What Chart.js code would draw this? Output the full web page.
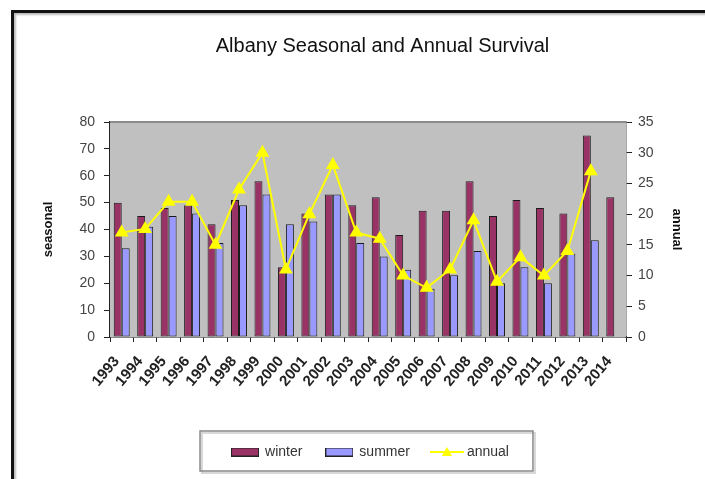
<!DOCTYPE html>
<html lang="en">
<head>
<meta charset="UTF-8">
<title>Albany Seasonal and Annual Survival</title>
<script src="https://cdn.jsdelivr.net/npm/chart.js"></script>
<style>
    body {
        margin: 0;
        background: #ffffff;
        font-family: 'Liberation Sans', Arial, sans-serif;
    }
    /* black frame, only left and top edges show in the picture */
    .frame {
        position: absolute;
        left: 11px;
        top: 10px;
        width: 700px;
        height: 480px;
        border-left: 3px solid #111;
        border-top: 3px solid #111;
        box-shadow: inset 2px 2px 2px #bbb;
    }
    .wrap {
        position: absolute;
        left: 0;
        top: 0;
        width: 705px;
        height: 479px;
    }
</style>
</head>
<body>
<div class="frame"></div>
<div class="wrap">
    <canvas id="chart" width="705" height="479"></canvas>
</div>

<script>
    // data
    const years = ["1993", "1994", "1995", "1996", "1997", "1998", "1999", "2000", "2001", "2002", "2003",
                   "2004", "2005", "2006", "2007", "2008", "2009", "2010", "2011", "2012", "2013", "2014"];
    const winter = [50, 45, 48, 49, 42, 51, 58, 26, 46, 53, 49, 52, 38, 47, 47, 58, 45, 51, 48, 46, 75, 52];
    const summer = [33, 41, 45, 46, 35, 49, 53, 42, 43, 53, 35, 30, 25, 18, 23, 32, 20, 26, 20, 31, 36, null];
    const annual = [17, 17.6, 22, 22, 15, 24, 30, 11, 20, 28, 17, 16, 10, 8, 11, 19, 9, 13, 10, 14, 27, null];
    const seasonalTicks = [0, 80, 10];
    const annualTicks = [0, 35, 5];

    const winterColor = "#993366";
    const summerColor = "#9999FF";
    const annualColor = "#FFFF00";

    // legend swatches
    function boxSwatch(color) {
        const c = document.createElement("canvas");
        c.width = 28; c.height = 9;
        const g = c.getContext("2d");
        g.fillStyle = color;
        g.fillRect(0, 0, 28, 9);
        g.strokeStyle = "#222";
        g.lineWidth = 1;
        g.strokeRect(0.5, 0.5, 27, 8);
        return c;
    }
    function lineSwatch() {
        const c = document.createElement("canvas");
        c.width = 34; c.height = 12;
        const g = c.getContext("2d");
        g.strokeStyle = annualColor;
        g.lineWidth = 2;
        g.beginPath(); g.moveTo(0, 6); g.lineTo(34, 6); g.stroke();
        g.fillStyle = annualColor;
        g.beginPath(); g.moveTo(17, 1); g.lineTo(22, 10); g.lineTo(12, 10); g.closePath(); g.fill();
        return c;
    }
    const swatches = [boxSwatch(winterColor), boxSwatch(summerColor), lineSwatch()];

    // grey plot area, title/legend nudge, border round the legend
    const decor = {
        id: "decor",
        afterLayout(chart) {
            // title and legend sit right of the canvas centre in the original
            chart.titleBlock.left += 60;
            chart.legend.left += 18;
            chart.legend.right += 18;
        },
        beforeDatasetsDraw(chart) {
            const { ctx, chartArea: a } = chart;
            ctx.save();
            ctx.fillStyle = "#C0C0C0";
            ctx.fillRect(a.left, a.top, a.right - a.left, a.bottom - a.top);
            ctx.strokeStyle = "#8a8a8a";
            ctx.lineWidth = 2;
            ctx.beginPath();
            ctx.moveTo(a.left, a.top);
            ctx.lineTo(a.right, a.top);
            ctx.stroke();
            ctx.restore();
        },
        afterDraw(chart) {
            const hb = chart.legend.legendHitBoxes;
            if (!hb || !hb.length) return;
            const first = hb[0], last = hb[hb.length - 1];
            const x0 = first.left - 32, x1 = last.left + last.width + 24;
            const y0 = first.top - 14, y1 = first.top + first.height + 12;
            const ctx = chart.ctx;
            ctx.save();
            ctx.strokeStyle = "#d8d8d8";
            ctx.lineWidth = 2;
            ctx.strokeRect(x0 + 2, y0 + 2, x1 - x0, y1 - y0);
            ctx.strokeStyle = "#888";
            ctx.lineWidth = 1.5;
            ctx.strokeRect(x0, y0, x1 - x0, y1 - y0);
            ctx.restore();
        }
    };

    new Chart(document.getElementById("chart"), {
        type: "bar",
        data: {
            labels: years,
            datasets: [
                {
                    label: "winter",
                    data: winter,
                    backgroundColor: winterColor,
                    borderColor: "#1a1a1a",
                    borderWidth: 1,
                    borderSkipped: false,
                    yAxisID: "y",
                    order: 1
                },
                {
                    label: "summer",
                    data: summer,
                    backgroundColor: summerColor,
                    borderColor: "#1a1a1a",
                    borderWidth: 1,
                    borderSkipped: false,
                    yAxisID: "y",
                    order: 1
                },
                {
                    type: "line",
                    label: "annual",
                    data: annual,
                    borderColor: annualColor,
                    backgroundColor: annualColor,
                    borderWidth: 2,
                    pointStyle: "triangle",
                    pointRadius: 6,
                    pointBackgroundColor: annualColor,
                    pointBorderColor: annualColor,
                    tension: 0,
                    yAxisID: "y2",
                    order: 0
                }
            ]
        },
        options: {
            responsive: false,
            animation: false,
            layout: { padding: { left: 0, right: 0, top: 0, bottom: 10 } },
            datasets: {
                bar: { categoryPercentage: 0.68, barPercentage: 1 }
            },
            plugins: {
                title: {
                    display: true,
                    text: "Albany Seasonal and Annual Survival",
                    color: "#111",
                    font: { family: "'Liberation Sans', Arial", size: 20, weight: "normal" },
                    padding: { top: 34, bottom: 64 }
                },
                legend: {
                    position: "bottom",
                    labels: {
                        usePointStyle: true,
                        pointStyleWidth: 26,
                        padding: 24,
                        color: "#333",
                        font: { family: "'Liberation Sans', Arial", size: 14 },
                        generateLabels(chart) {
                            const items = Chart.defaults.plugins.legend.labels.generateLabels(chart);
                            items.sort((a, b) => a.datasetIndex - b.datasetIndex);
                            items.forEach(it => { it.pointStyle = swatches[it.datasetIndex]; });
                            return items;
                        }
                    }
                },
                tooltip: { enabled: false }
            },
            scales: {
                x: {
                    afterFit(scale) { scale.height = 84; },
                    grid: {
                        offset: true,
                        drawOnChartArea: false,
                        drawTicks: true,
                        tickLength: 5,
                        tickColor: "#222"
                    },
                    border: { color: "#111", width: 1.5 },
                    ticks: {
                        autoSkip: false,
                        maxRotation: 50,
                        minRotation: 50,
                        padding: 11,
                        labelOffset: -5,
                        color: "#222",
                        font: { family: "'Liberation Sans', Arial", size: 15, weight: "bold" }
                    }
                },
                y: {
                    position: "left",
                    min: seasonalTicks[0],
                    max: seasonalTicks[1],
                    afterFit(scale) { scale.width = 110; },
                    grid: { drawOnChartArea: false, tickLength: 6, tickColor: "#222" },
                    border: { color: "#222", width: 1.5 },
                    ticks: {
                        stepSize: seasonalTicks[2],
                        padding: 9,
                        color: "#444",
                        font: { family: "'Liberation Sans', Arial", size: 14 }
                    },
                    title: {
                        display: true,
                        text: "seasonal",
                        color: "#111",
                        padding: { top: 41, bottom: 0 },
                        font: { family: "'Liberation Sans', Arial", size: 13, weight: "bold" }
                    }
                },
                y2: {
                    position: "right",
                    min: annualTicks[0],
                    max: annualTicks[1],
                    afterFit(scale) { scale.width = 79; },
                    grid: { drawOnChartArea: false, tickLength: 6, tickColor: "#222" },
                    border: { color: "#555", width: 1.5 },
                    ticks: {
                        stepSize: annualTicks[2],
                        padding: 6,
                        color: "#444",
                        font: { family: "'Liberation Sans', Arial", size: 14 }
                    },
                    title: {
                        display: true,
                        text: "annual",
                        color: "#111",
                        padding: { top: 21, bottom: 0 },
                        font: { family: "'Liberation Sans', Arial", size: 13, weight: "bold" }
                    }
                }
            }
        },
        plugins: [decor]
    });
</script>
</body>
</html>
